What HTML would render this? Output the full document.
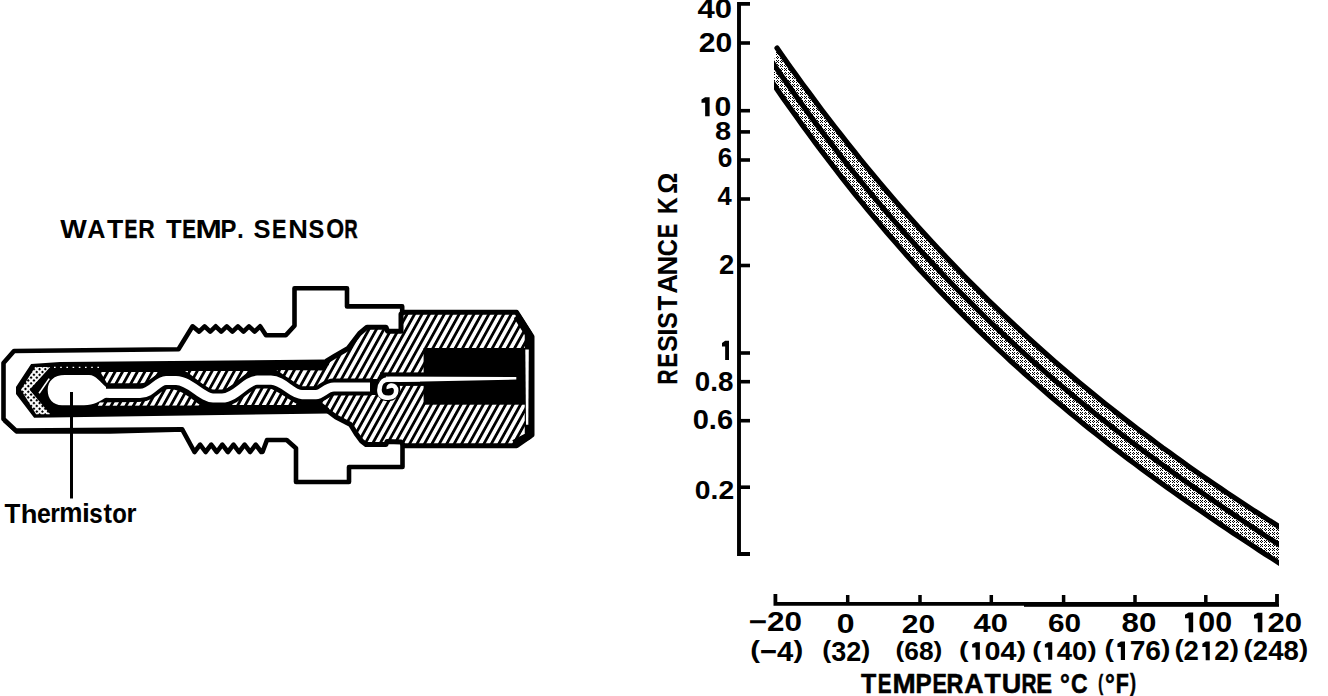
<!DOCTYPE html>
<html><head><meta charset="utf-8"><style>
html,body{margin:0;padding:0;background:#fff;width:1328px;height:696px;overflow:hidden}
svg{display:block}
text{font-family:"Liberation Sans",sans-serif;font-weight:bold;fill:#000}
</style></head><body>
<svg width="1328" height="696" viewBox="0 0 1328 696">
<defs>
<pattern id="hatch" patternUnits="userSpaceOnUse" width="6.5" height="20" patternTransform="rotate(29)">
<rect x="0" y="0" width="6.5" height="20" fill="#fff"/>
<rect x="0" y="0" width="2.8" height="20" fill="#000"/>
</pattern>
<pattern id="dots" patternUnits="userSpaceOnUse" width="8" height="8">
<rect width="8" height="8" fill="#fff"/>
<path d="M1,0h1v1h-1z M0,1h1v1h-1z M2,1h1v1h-1z M1,2h1v1h-1z M4,0h1v1h-1z M6,0h1v1h-1z M5,1h1v1h-1z M4,2h1v1h-1z M6,2h1v1h-1z M5,4h1v1h-1z M4,5h1v1h-1z M6,5h1v1h-1z M5,6h1v1h-1z M0,4h1v1h-1z M2,4h1v1h-1z M1,5h1v1h-1z M0,6h1v1h-1z M2,6h1v1h-1z" fill="#000"/>
</pattern>
<pattern id="dots2" patternUnits="userSpaceOnUse" width="4" height="4" patternTransform="rotate(45)">
<rect width="4" height="4" fill="#fff"/>
<rect x="0" y="0" width="2.1" height="2.1" fill="#000"/>
</pattern>
<clipPath id="bandclip"><rect x="774" y="0" width="505" height="696"/></clipPath>
</defs>

<!-- ================= CHART ================= -->
<g clip-path="url(#bandclip)">
<path d="M777.0,48.1 L783.4,57.3 L789.9,66.4 L796.3,75.3 L802.7,84.2 L809.2,92.9 L815.6,101.6 L822.0,110.2 L828.4,118.6 L834.9,127.0 L841.3,135.2 L847.7,143.4 L854.2,151.5 L860.6,159.5 L867.0,167.3 L873.5,175.1 L879.9,182.8 L886.3,190.5 L892.7,198.0 L899.2,205.4 L905.6,212.8 L912.0,220.0 L918.5,227.2 L924.9,234.3 L931.3,241.3 L937.8,248.3 L944.2,255.1 L950.6,261.9 L957.1,268.6 L963.5,275.2 L969.9,281.8 L976.3,288.2 L982.8,294.6 L989.2,301.0 L995.6,307.2 L1002.1,313.4 L1008.5,319.5 L1014.9,325.5 L1021.4,331.5 L1027.8,337.4 L1034.2,343.2 L1040.6,349.0 L1047.1,354.7 L1053.5,360.4 L1059.9,366.0 L1066.4,371.5 L1072.8,377.0 L1079.2,382.4 L1085.7,387.7 L1092.1,393.0 L1098.5,398.2 L1104.9,403.4 L1111.4,408.5 L1117.8,413.6 L1124.2,418.6 L1130.7,423.6 L1137.1,428.5 L1143.5,433.4 L1150.0,438.2 L1156.4,443.0 L1162.8,447.8 L1169.3,452.4 L1175.7,457.1 L1182.1,461.7 L1188.5,466.3 L1195.0,470.8 L1201.4,475.3 L1207.8,479.7 L1214.3,484.1 L1220.7,488.5 L1227.1,492.8 L1233.6,497.1 L1240.0,501.4 L1246.4,505.6 L1252.8,509.8 L1259.3,514.0 L1265.7,518.2 L1272.1,522.3 L1278.6,526.4 L1285.0,530.4 L1285.0,566.9 L1278.5,562.7 L1272.0,558.4 L1265.4,554.2 L1258.9,550.0 L1252.4,545.7 L1245.9,541.4 L1239.4,537.1 L1232.8,532.8 L1226.3,528.4 L1219.8,524.0 L1213.3,519.6 L1206.8,515.2 L1200.3,510.7 L1193.7,506.2 L1187.2,501.7 L1180.7,497.1 L1174.2,492.5 L1167.7,487.8 L1161.1,483.1 L1154.6,478.4 L1148.1,473.6 L1141.6,468.8 L1135.1,464.0 L1128.5,459.1 L1122.0,454.1 L1115.5,449.1 L1109.0,444.1 L1102.5,439.0 L1095.9,433.8 L1089.4,428.6 L1082.9,423.4 L1076.4,418.1 L1069.9,412.7 L1063.4,407.2 L1056.8,401.8 L1050.3,396.2 L1043.8,390.6 L1037.3,384.9 L1030.8,379.1 L1024.2,373.3 L1017.7,367.4 L1011.2,361.5 L1004.7,355.4 L998.2,349.3 L991.6,343.2 L985.1,336.9 L978.6,330.6 L972.1,324.2 L965.6,317.7 L959.1,311.1 L952.5,304.4 L946.0,297.7 L939.5,290.9 L933.0,284.0 L926.5,277.0 L919.9,269.9 L913.4,262.7 L906.9,255.4 L900.4,248.1 L893.9,240.6 L887.3,233.0 L880.8,225.4 L874.3,217.6 L867.8,209.8 L861.3,201.8 L854.7,193.8 L848.2,185.6 L841.7,177.3 L835.2,168.9 L828.7,160.5 L822.2,151.9 L815.6,143.2 L809.1,134.3 L802.6,125.4 L796.1,116.3 L789.6,107.2 L783.0,97.9 L776.5,88.5 L770.0,78.9 Z" fill="url(#dots)"/>
<path d="M777.0,48.1 L783.4,57.3 L789.9,66.4 L796.3,75.3 L802.7,84.2 L809.2,92.9 L815.6,101.6 L822.0,110.2 L828.4,118.6 L834.9,127.0 L841.3,135.2 L847.7,143.4 L854.2,151.5 L860.6,159.5 L867.0,167.3 L873.5,175.1 L879.9,182.8 L886.3,190.5 L892.7,198.0 L899.2,205.4 L905.6,212.8 L912.0,220.0 L918.5,227.2 L924.9,234.3 L931.3,241.3 L937.8,248.3 L944.2,255.1 L950.6,261.9 L957.1,268.6 L963.5,275.2 L969.9,281.8 L976.3,288.2 L982.8,294.6 L989.2,301.0 L995.6,307.2 L1002.1,313.4 L1008.5,319.5 L1014.9,325.5 L1021.4,331.5 L1027.8,337.4 L1034.2,343.2 L1040.6,349.0 L1047.1,354.7 L1053.5,360.4 L1059.9,366.0 L1066.4,371.5 L1072.8,377.0 L1079.2,382.4 L1085.7,387.7 L1092.1,393.0 L1098.5,398.2 L1104.9,403.4 L1111.4,408.5 L1117.8,413.6 L1124.2,418.6 L1130.7,423.6 L1137.1,428.5 L1143.5,433.4 L1150.0,438.2 L1156.4,443.0 L1162.8,447.8 L1169.3,452.4 L1175.7,457.1 L1182.1,461.7 L1188.5,466.3 L1195.0,470.8 L1201.4,475.3 L1207.8,479.7 L1214.3,484.1 L1220.7,488.5 L1227.1,492.8 L1233.6,497.1 L1240.0,501.4 L1246.4,505.6 L1252.8,509.8 L1259.3,514.0 L1265.7,518.2 L1272.1,522.3 L1278.6,526.4 L1285.0,530.4" fill="none" stroke="#000" stroke-width="5.2" stroke-linecap="round"/>
<path d="M770.0,58.9 L776.5,68.4 L783.0,77.8 L789.6,87.1 L796.1,96.3 L802.6,105.3 L809.1,114.3 L815.6,123.1 L822.2,131.8 L828.7,140.4 L835.2,148.9 L841.7,157.3 L848.2,165.6 L854.7,173.7 L861.3,181.8 L867.8,189.8 L874.3,197.6 L880.8,205.4 L887.3,213.0 L893.9,220.6 L900.4,228.1 L906.9,235.4 L913.4,242.7 L919.9,249.9 L926.5,257.0 L933.0,264.0 L939.5,270.9 L946.0,277.8 L952.5,284.5 L959.1,291.2 L965.6,297.7 L972.1,304.2 L978.6,310.7 L985.1,317.0 L991.6,323.3 L998.2,329.5 L1004.7,335.6 L1011.2,341.6 L1017.7,347.6 L1024.2,353.5 L1030.8,359.4 L1037.3,365.1 L1043.8,370.8 L1050.3,376.5 L1056.8,382.1 L1063.4,387.6 L1069.9,393.0 L1076.4,398.4 L1082.9,403.8 L1089.4,409.1 L1095.9,414.3 L1102.5,419.5 L1109.0,424.6 L1115.5,429.7 L1122.0,434.7 L1128.5,439.7 L1135.1,444.6 L1141.6,449.5 L1148.1,454.3 L1154.6,459.2 L1161.1,463.9 L1167.7,468.6 L1174.2,473.3 L1180.7,478.0 L1187.2,482.6 L1193.7,487.2 L1200.3,491.7 L1206.8,496.2 L1213.3,500.7 L1219.8,505.2 L1226.3,509.6 L1232.8,514.0 L1239.4,518.4 L1245.9,522.8 L1252.4,527.1 L1258.9,531.5 L1265.4,535.8 L1272.0,540.1 L1278.5,544.3 L1285.0,548.6" fill="none" stroke="#000" stroke-width="5.2"/>
<path d="M770.0,78.9 L776.5,88.5 L783.0,97.9 L789.6,107.2 L796.1,116.3 L802.6,125.4 L809.1,134.3 L815.6,143.2 L822.2,151.9 L828.7,160.5 L835.2,168.9 L841.7,177.3 L848.2,185.6 L854.7,193.8 L861.3,201.8 L867.8,209.8 L874.3,217.6 L880.8,225.4 L887.3,233.0 L893.9,240.6 L900.4,248.1 L906.9,255.4 L913.4,262.7 L919.9,269.9 L926.5,277.0 L933.0,284.0 L939.5,290.9 L946.0,297.7 L952.5,304.4 L959.1,311.1 L965.6,317.7 L972.1,324.2 L978.6,330.6 L985.1,336.9 L991.6,343.2 L998.2,349.3 L1004.7,355.4 L1011.2,361.5 L1017.7,367.4 L1024.2,373.3 L1030.8,379.1 L1037.3,384.9 L1043.8,390.6 L1050.3,396.2 L1056.8,401.8 L1063.4,407.2 L1069.9,412.7 L1076.4,418.1 L1082.9,423.4 L1089.4,428.6 L1095.9,433.8 L1102.5,439.0 L1109.0,444.1 L1115.5,449.1 L1122.0,454.1 L1128.5,459.1 L1135.1,464.0 L1141.6,468.8 L1148.1,473.6 L1154.6,478.4 L1161.1,483.1 L1167.7,487.8 L1174.2,492.5 L1180.7,497.1 L1187.2,501.7 L1193.7,506.2 L1200.3,510.7 L1206.8,515.2 L1213.3,519.6 L1219.8,524.0 L1226.3,528.4 L1232.8,532.8 L1239.4,537.1 L1245.9,541.4 L1252.4,545.7 L1258.9,550.0 L1265.4,554.2 L1272.0,558.4 L1278.5,562.7 L1285.0,566.9" fill="none" stroke="#000" stroke-width="5.2"/>
</g>

<!-- y axis -->
<path d="M750,3.9 L739,3.9 L739,554 L750,554" fill="none" stroke="#000" stroke-width="3.9"/>
<g stroke="#000" stroke-width="3.6">
<line x1="739" y1="43" x2="750" y2="43"/>
<line x1="739" y1="110.7" x2="750" y2="110.7"/>
<line x1="739" y1="131.9" x2="750" y2="131.9"/>
<line x1="739" y1="160" x2="750" y2="160"/>
<line x1="739" y1="199" x2="750" y2="199"/>
<line x1="739" y1="265.5" x2="750" y2="265.5"/>
<line x1="739" y1="353" x2="750" y2="353"/>
<line x1="739" y1="381.7" x2="750" y2="381.7"/>
<line x1="739" y1="420.7" x2="750" y2="420.7"/>
<line x1="739" y1="487.2" x2="750" y2="487.2"/>
</g>
<!-- x axis -->
<path d="M775.4,594 L775.4,603.8 L1277,603.8 L1277,594" fill="none" stroke="#000" stroke-width="3.8"/>
<g stroke="#000" stroke-width="3.5">
<line x1="847.7" y1="595" x2="847.7" y2="603.8"/>
<line x1="920" y1="595" x2="920" y2="603.8"/>
<line x1="991.3" y1="595" x2="991.3" y2="603.8"/>
<line x1="1063.6" y1="595" x2="1063.6" y2="603.8"/>
<line x1="1135" y1="595" x2="1135" y2="603.8"/>
<line x1="1205.8" y1="595" x2="1205.8" y2="603.8"/>
</g>

<rect x="1024" y="604" width="255" height="2.8" fill="#000"/>
<!-- labels -->
<text transform="translate(697.53,18.24) scale(1.125,0.972)" font-size="27.6">4</text>
<text transform="translate(714.80,18.24) scale(1.125,0.972)" font-size="27.6">0</text>
<text transform="translate(698.76,52.34) scale(1.090,0.972)" font-size="27.6">2</text>
<text transform="translate(715.50,52.34) scale(1.090,0.972)" font-size="27.6">0</text>
<path d="M705.15,97.18 L709.62,97.18 L709.62,116.13 L705.15,116.13 L705.15,102.87 L701.50,102.87 L701.50,99.46 Z"/>
<text transform="translate(714.62,116.13) scale(1.095,0.998)" font-size="27.6">0</text>
<text transform="translate(714.98,140.35) scale(1.050,0.942)" font-size="27.6">8</text>
<text transform="translate(717.74,166.74) scale(0.952,0.972)" font-size="27.6">6</text>
<text transform="translate(717.61,205.00) scale(0.927,0.948)" font-size="27.6">4</text>
<text transform="translate(718.95,273.70) scale(0.993,0.970)" font-size="27.6">2</text>
<path d="M725.15,340.80 L729.00,340.80 L729.00,359.90 L725.15,359.90 L725.15,346.53 L722.00,346.53 L722.00,343.09 Z"/>
<text transform="translate(694.80,391.14) scale(1.007,0.972)" font-size="27.6">0</text>
<text transform="translate(710.27,391.14) scale(1.007,0.972)" font-size="27.6">.</text>
<text transform="translate(717.99,391.14) scale(1.007,0.972)" font-size="27.6">8</text>
<text transform="translate(692.65,429.44) scale(1.053,0.972)" font-size="27.6">0</text>
<text transform="translate(708.81,429.44) scale(1.053,0.972)" font-size="27.6">.</text>
<text transform="translate(716.89,429.44) scale(1.053,0.972)" font-size="27.6">6</text>
<text transform="translate(694.78,498.54) scale(1.026,0.947)" font-size="27.6">0</text>
<text transform="translate(710.52,498.54) scale(1.026,0.947)" font-size="27.6">.</text>
<text transform="translate(718.39,498.54) scale(1.026,0.947)" font-size="27.6">2</text>
<text transform="translate(748.69,631.44) scale(1.141,0.983)" font-size="27.6">−</text>
<text transform="translate(767.08,631.44) scale(1.141,0.983)" font-size="27.6">2</text>
<text transform="translate(784.58,631.44) scale(1.141,0.983)" font-size="27.6">0</text>
<text transform="translate(836.64,633.23) scale(1.158,0.993)" font-size="27.6">0</text>
<text transform="translate(901.86,632.74) scale(1.084,0.967)" font-size="27.6">2</text>
<text transform="translate(918.49,632.74) scale(1.084,0.967)" font-size="27.6">0</text>
<text transform="translate(973.53,632.24) scale(1.118,0.967)" font-size="27.6">4</text>
<text transform="translate(990.70,632.24) scale(1.118,0.967)" font-size="27.6">0</text>
<text transform="translate(1047.91,632.24) scale(1.079,0.967)" font-size="27.6">6</text>
<text transform="translate(1064.47,632.24) scale(1.079,0.967)" font-size="27.6">0</text>
<text transform="translate(1121.51,632.23) scale(1.133,0.998)" font-size="27.6">8</text>
<text transform="translate(1138.90,632.23) scale(1.133,0.998)" font-size="27.6">0</text>
<path d="M1188.68,612.40 L1193.17,612.40 L1193.17,632.22 L1188.68,632.22 L1188.68,618.34 L1185.00,618.34 L1185.00,614.77 Z"/>
<text transform="translate(1198.21,632.22) scale(1.102,1.044)" font-size="27.6">0</text>
<text transform="translate(1215.13,632.22) scale(1.102,1.044)" font-size="27.6">0</text>
<path d="M1257.76,612.79 L1262.35,612.79 L1262.35,632.22 L1257.76,632.22 L1257.76,618.62 L1254.00,618.62 L1254.00,615.12 Z"/>
<text transform="translate(1267.50,632.22) scale(1.126,1.023)" font-size="27.6">2</text>
<text transform="translate(1284.79,632.22) scale(1.126,1.023)" font-size="27.6">0</text>
<text transform="translate(750.24,657.96) scale(1.062,0.863)" font-size="27.6">(</text>
<text transform="translate(760.00,661.40) scale(1.062,1.027)" font-size="27.6">−</text>
<text transform="translate(777.11,661.40) scale(1.062,1.027)" font-size="27.6">4</text>
<text transform="translate(793.40,657.96) scale(1.062,0.863)" font-size="27.6">)</text>
<text transform="translate(822.26,658.05) scale(0.978,0.847)" font-size="27.6">(</text>
<text transform="translate(831.24,661.10) scale(0.978,0.975)" font-size="27.6">3</text>
<text transform="translate(846.25,661.10) scale(0.978,0.975)" font-size="27.6">2</text>
<text transform="translate(861.26,658.05) scale(0.978,0.847)" font-size="27.6">)</text>
<text transform="translate(895.49,657.26) scale(0.954,0.828)" font-size="27.6">(</text>
<text transform="translate(904.26,660.24) scale(0.954,0.952)" font-size="27.6">6</text>
<text transform="translate(918.90,660.24) scale(0.954,0.952)" font-size="27.6">8</text>
<text transform="translate(933.54,657.26) scale(0.954,0.828)" font-size="27.6">)</text>
<text transform="translate(959.07,656.87) scale(1.041,0.808)" font-size="27.6">(</text>
<path d="M975.61,642.16 L979.86,642.16 L979.86,659.75 L975.61,659.75 L975.61,647.44 L972.14,647.44 L972.14,644.27 Z"/>
<text transform="translate(984.61,659.75) scale(1.041,0.926)" font-size="27.6">0</text>
<text transform="translate(1000.59,659.75) scale(1.041,0.926)" font-size="27.6">4</text>
<text transform="translate(1016.56,656.87) scale(1.041,0.808)" font-size="27.6">)</text>
<text transform="translate(1032.33,656.87) scale(0.997,0.808)" font-size="27.6">(</text>
<path d="M1048.18,642.16 L1052.24,642.16 L1052.24,659.75 L1048.18,659.75 L1048.18,647.44 L1044.85,647.44 L1044.85,644.27 Z"/>
<text transform="translate(1056.80,659.75) scale(0.997,0.926)" font-size="27.6">4</text>
<text transform="translate(1072.10,659.75) scale(0.997,0.926)" font-size="27.6">0</text>
<text transform="translate(1087.41,656.87) scale(0.997,0.808)" font-size="27.6">)</text>
<text transform="translate(1104.60,656.87) scale(1.021,0.843)" font-size="27.6">(</text>
<path d="M1120.83,641.48 L1124.99,641.48 L1124.99,659.94 L1120.83,659.94 L1120.83,647.01 L1117.42,647.01 L1117.42,643.69 Z"/>
<text transform="translate(1129.66,659.94) scale(1.021,0.972)" font-size="27.6">7</text>
<text transform="translate(1145.34,659.94) scale(1.021,0.972)" font-size="27.6">6</text>
<text transform="translate(1161.02,656.87) scale(1.021,0.843)" font-size="27.6">)</text>
<text transform="translate(1174.42,656.87) scale(1.000,0.843)" font-size="27.6">(</text>
<text transform="translate(1183.62,660.20) scale(1.000,0.986)" font-size="27.6">2</text>
<path d="M1205.68,641.48 L1209.76,641.48 L1209.76,660.20 L1205.68,660.20 L1205.68,647.10 L1202.34,647.10 L1202.34,643.73 Z"/>
<text transform="translate(1214.33,660.20) scale(1.000,0.986)" font-size="27.6">2</text>
<text transform="translate(1229.68,656.87) scale(1.000,0.843)" font-size="27.6">)</text>
<text transform="translate(1243.62,656.87) scale(1.000,0.843)" font-size="27.6">(</text>
<text transform="translate(1252.82,659.94) scale(1.000,0.972)" font-size="27.6">2</text>
<text transform="translate(1268.17,659.94) scale(1.000,0.972)" font-size="27.6">4</text>
<text transform="translate(1283.53,659.94) scale(1.000,0.972)" font-size="27.6">8</text>
<text transform="translate(1298.88,656.87) scale(1.000,0.843)" font-size="27.6">)</text>
<text transform="translate(860.92,693.20) scale(0.925,1.023)" font-size="27.0" stroke="#000" stroke-width="0.5" vector-effect="non-scaling-stroke">T</text>
<text transform="translate(877.72,693.20) scale(0.766,1.023)" font-size="27.0" stroke="#000" stroke-width="0.5" vector-effect="non-scaling-stroke">E</text>
<text transform="translate(892.53,693.20) scale(1.033,1.023)" font-size="27.0" stroke="#000" stroke-width="0.5" vector-effect="non-scaling-stroke">M</text>
<text transform="translate(915.38,693.20) scale(0.897,1.023)" font-size="27.0" stroke="#000" stroke-width="0.5" vector-effect="non-scaling-stroke">P</text>
<text transform="translate(932.46,693.20) scale(0.799,1.023)" font-size="27.0" stroke="#000" stroke-width="0.5" vector-effect="non-scaling-stroke">E</text>
<text transform="translate(946.54,693.20) scale(0.864,1.023)" font-size="27.0" stroke="#000" stroke-width="0.5" vector-effect="non-scaling-stroke">R</text>
<text transform="translate(964.34,693.20) scale(0.988,1.023)" font-size="27.0" stroke="#000" stroke-width="0.5" vector-effect="non-scaling-stroke">A</text>
<text transform="translate(984.50,693.20) scale(0.987,1.023)" font-size="27.0" stroke="#000" stroke-width="0.5" vector-effect="non-scaling-stroke">T</text>
<text transform="translate(1001.87,692.93) scale(1.004,1.009)" font-size="27.0" stroke="#000" stroke-width="0.5" vector-effect="non-scaling-stroke">U</text>
<text transform="translate(1021.41,693.20) scale(0.770,1.023)" font-size="27.0" stroke="#000" stroke-width="0.5" vector-effect="non-scaling-stroke">R</text>
<text transform="translate(1036.21,693.20) scale(0.878,1.023)" font-size="27.0" stroke="#000" stroke-width="0.5" vector-effect="non-scaling-stroke">E</text>
<text transform="translate(1060.02,693.55) scale(0.911,1.035)" font-size="27.0" stroke="#000" stroke-width="0.5" vector-effect="non-scaling-stroke">°</text>
<text transform="translate(1071.06,693.43) scale(0.850,1.036)" font-size="27.0" stroke="#000" stroke-width="0.5" vector-effect="non-scaling-stroke">C</text>
<text transform="translate(1098.18,690.04) scale(0.538,0.815)" font-size="27.0" stroke="#000" stroke-width="0.5" vector-effect="non-scaling-stroke">(</text>
<text transform="translate(1105.12,693.55) scale(0.911,1.035)" font-size="27.0" stroke="#000" stroke-width="0.5" vector-effect="non-scaling-stroke">°</text>
<text transform="translate(1115.66,693.30) scale(0.796,1.012)" font-size="27.0" stroke="#000" stroke-width="0.5" vector-effect="non-scaling-stroke">F</text>
<text transform="translate(1129.88,690.71) scale(0.669,0.854)" font-size="27.0" stroke="#000" stroke-width="0.5" vector-effect="non-scaling-stroke">)</text>
<g transform="translate(677,0) rotate(-90)"><text transform="translate(-384.59,0.00) scale(0.770,1.023)" font-size="27.0" stroke="#000" stroke-width="0.36" vector-effect="non-scaling-stroke">R</text>
<text transform="translate(-367.44,0.00) scale(0.799,1.023)" font-size="27.0" stroke="#000" stroke-width="0.30" vector-effect="non-scaling-stroke">E</text>
<text transform="translate(-351.72,-0.26) scale(0.921,0.994)" font-size="27.0" stroke="#000" stroke-width="0.06" vector-effect="non-scaling-stroke">S</text>
<text transform="translate(-335.43,0.00) scale(0.900,1.023)" font-size="27.0" stroke="#000" stroke-width="0.10" vector-effect="non-scaling-stroke">I</text>
<text transform="translate(-328.72,-0.26) scale(0.921,0.994)" font-size="27.0" stroke="#000" stroke-width="0.06" vector-effect="non-scaling-stroke">S</text>
<text transform="translate(-310.47,0.00) scale(0.899,1.023)" font-size="27.0" stroke="#000" stroke-width="0.10" vector-effect="non-scaling-stroke">T</text>
<text transform="translate(-293.68,0.00) scale(1.010,1.023)" font-size="27.0">A</text>
<text transform="translate(-275.43,0.00) scale(1.014,1.023)" font-size="27.0">N</text>
<text transform="translate(-256.17,-0.26) scale(0.878,0.994)" font-size="27.0" stroke="#000" stroke-width="0.14" vector-effect="non-scaling-stroke">C</text>
<text transform="translate(-238.24,0.00) scale(0.799,1.023)" font-size="27.0" stroke="#000" stroke-width="0.30" vector-effect="non-scaling-stroke">E</text>
<text transform="translate(-214.12,0.00) scale(0.843,1.023)" font-size="27.0" stroke="#000" stroke-width="0.21" vector-effect="non-scaling-stroke">K</text>
<text transform="translate(-193.87,0.00) scale(0.976,1.008)" font-size="27.0">Ω</text></g>

<!-- ================= SENSOR ================= -->
<text transform="translate(60.17,238.30) scale(1.042,0.985)" font-size="27.0">W</text>
<text transform="translate(87.27,238.30) scale(0.933,0.985)" font-size="27.0">A</text>
<text transform="translate(106.90,238.30) scale(0.987,0.985)" font-size="27.0">T</text>
<text transform="translate(124.61,238.30) scale(0.713,0.985)" font-size="27.0" stroke="#000" stroke-width="0.47" vector-effect="non-scaling-stroke">E</text>
<text transform="translate(138.17,238.30) scale(0.846,0.985)" font-size="27.0" stroke="#000" stroke-width="0.21" vector-effect="non-scaling-stroke">R</text>
<text transform="translate(165.91,238.30) scale(0.950,0.985)" font-size="27.0">T</text>
<text transform="translate(182.33,238.30) scale(0.759,0.985)" font-size="27.0" stroke="#000" stroke-width="0.38" vector-effect="non-scaling-stroke">E</text>
<text transform="translate(195.49,238.30) scale(1.171,0.985)" font-size="27.0">M</text>
<text transform="translate(220.60,238.30) scale(0.884,0.985)" font-size="27.0" stroke="#000" stroke-width="0.13" vector-effect="non-scaling-stroke">P</text>
<text transform="translate(237.36,238.30) scale(0.840,0.945)" font-size="27.0" stroke="#000" stroke-width="0.22" vector-effect="non-scaling-stroke">.</text>
<text transform="translate(253.56,238.34) scale(0.946,0.989)" font-size="27.0">S</text>
<text transform="translate(272.06,238.30) scale(0.799,0.985)" font-size="27.0" stroke="#000" stroke-width="0.30" vector-effect="non-scaling-stroke">E</text>
<text transform="translate(288.28,238.30) scale(1.008,0.985)" font-size="27.0">N</text>
<text transform="translate(308.62,238.34) scale(0.872,0.989)" font-size="27.0" stroke="#000" stroke-width="0.16" vector-effect="non-scaling-stroke">S</text>
<text transform="translate(326.26,238.34) scale(0.853,0.989)" font-size="27.0" stroke="#000" stroke-width="0.19" vector-effect="non-scaling-stroke">O</text>
<text transform="translate(344.59,238.30) scale(0.671,0.985)" font-size="27.0" stroke="#000" stroke-width="0.56" vector-effect="non-scaling-stroke">R</text>
<text transform="translate(4.41,522.70) scale(0.962,0.996)" font-size="27.0">T</text>
<text transform="translate(20.79,522.70) scale(1.013,0.946)" font-size="27.0">h</text>
<text transform="translate(36.93,522.53) scale(0.920,1.007)" font-size="27.0" stroke="#000" stroke-width="0.06" vector-effect="non-scaling-stroke">e</text>
<text transform="translate(50.27,522.30) scale(0.914,0.963)" font-size="27.0" stroke="#000" stroke-width="0.07" vector-effect="non-scaling-stroke">r</text>
<text transform="translate(59.28,522.30) scale(0.968,0.990)" font-size="27.0">m</text>
<text transform="translate(82.02,522.30) scale(1.053,0.986)" font-size="27.0">i</text>
<text transform="translate(89.25,522.53) scale(0.895,1.006)" font-size="27.0" stroke="#000" stroke-width="0.11" vector-effect="non-scaling-stroke">s</text>
<text transform="translate(103.49,522.56) scale(0.948,0.997)" font-size="27.0">t</text>
<text transform="translate(112.37,522.53) scale(0.883,1.007)" font-size="27.0" stroke="#000" stroke-width="0.13" vector-effect="non-scaling-stroke">o</text>
<text transform="translate(126.41,522.30) scale(0.950,0.963)" font-size="27.0">r</text>

<path d="M3.5,363.0 L14.0,351.0 L178.5,349.3 L192.6,326.3 L199.1,331.6 L204.6,326.3 L210.2,331.6 L215.7,326.3 L221.2,331.6 L226.8,326.3 L232.4,331.6 L237.9,326.3 L243.5,331.6 L249.0,326.3 L254.6,331.6 L260.1,326.3 L266.0,335.3 L285.8,335.3 L294.5,325.8 L294.5,288.3 L347.0,288.3 L347.0,306.4 L402.2,306.4 L402.2,330.0 L402.5,442.0 L402.5,467.0 L349.0,467.0 L349.0,482.0 L296.0,482.0 L296.0,448.2 L286.7,440.0 L267.0,440.0 L262.5,452.0 L261.3,452.0 L255.7,444.6 L250.2,452.0 L244.6,444.6 L239.0,452.0 L233.5,444.6 L227.9,452.0 L222.3,444.6 L216.8,452.0 L211.2,444.6 L205.6,452.0 L200.1,444.6 L194.5,452.0 L182.2,429.4 L16.0,430.6 L3.5,419.0 Z" fill="#fff" stroke="#000" stroke-width="4.6" stroke-linejoin="round"/>
<path d="M4,421 L16.5,432.3 L110,432.3 L175,430.5" fill="none" stroke="#000" stroke-width="3"/>
<path d="M326.0,361.5 L335.0,356.0 L348.0,348.5 L359.5,333.5 L367.0,327.2 L386.0,327.2 L387.5,331.2 L401.0,331.2 L401.0,314.0 L404.0,312.3 L516.6,312.3 L532.0,336.5 L532.0,435.0 L516.6,445.7 L404.0,445.7 L401.0,442.0 L387.0,441.5 L386.0,444.5 L366.0,444.5 L361.5,441.0 L356.0,433.5 L350.5,424.5 L336.0,417.0 L328.0,411.0 Z" fill="url(#hatch)"/>
<rect x="423.6" y="348" width="108" height="56.7" fill="#000"/>
<rect x="380" y="372.4" width="45" height="13.5" fill="#000"/>
<path d="M386,376.6 L516.3,377 L516.3,379.6 L386,382.2 Z" fill="#fff"/>
<path d="M31.1,364.0 L60.0,362.0 L326.0,359.5 L329.0,362.0 L329.0,371.0 L323.0,371.0 L323.0,399.0 L329.0,399.0 L329.0,413.5 L34.1,417.8 L16.0,394.0 L16.0,387.0 Z" fill="#000"/>
<path d="M326.0,361.5 L335.0,356.0 L348.0,348.5 L359.5,333.5 L367.0,327.2 L386.0,327.2 L387.5,331.2 L401.0,331.2 L401.0,314.0 L404.0,312.3 L516.6,312.3 L532.0,336.5 L532.0,435.0 L516.6,445.7 L404.0,445.7 L401.0,442.0 L387.0,441.5 L386.0,444.5 L366.0,444.5 L361.5,441.0 L356.0,433.5 L350.5,424.5 L336.0,417.0 L328.0,411.0" fill="none" stroke="#000" stroke-width="5" stroke-linejoin="round"/>
<path d="M517,316 L528.5,334 L528.5,436 L514,443.5" fill="none" stroke="#000" stroke-width="7.5" stroke-linejoin="round"/>
<path d="M525.3,349.5 L528.8,349.5 L528.3,424.8 L526,424.8 Z" fill="#fff"/>
<line x1="54" y1="367.3" x2="101" y2="367.3" stroke="#fff" stroke-width="1.3" stroke-dasharray="1.6 4.6"/>
<path d="M35.1,367.0 L50.2,367.0 L29.6,389.7 L50.2,414.3 L36.1,414.3 L21.0,389.7 Z" fill="url(#dots2)"/>
<path d="M100.4,372 L157.8,372 C154,378 149,383.2 140,383.2 L107,383.2 Z" fill="url(#hatch)"/>
<path d="M185,371 L250,371 C240,377 230,390.8 218,390.8 C206,390.8 196,377 185,371 Z" fill="url(#hatch)"/>
<path d="M276.4,370 L324,370.5 L326,366 L332,364 L334,386 C326,386 320,389.8 310,389.8 C298,389.8 286,375 276.4,370 Z" fill="url(#hatch)"/>
<path d="M97.5,402.5 L137,402 C150,401 156,389 169,389 C182,389 192,400 201,405.5 L97.5,405.8 Z" fill="url(#hatch)"/>
<path d="M229.3,405 C240,400 249,387 262,387 C275,387 288,400 299,405 Z" fill="url(#hatch)"/>
<path d="M321,402 C326,399 330,396 336,394 L336,409 L330,409 Z" fill="url(#hatch)"/>
<path d="M95,391 C100,393 103,393.4 110,393.4 L140,393.4 C152,393.4 157,380.5 166,380.5 L176,380.5 C190,380.5 202,398 213,398 L222,398 C236,398 246,380.2 257,380.2 L271,380.2 C283,380.2 292,394.6 302,394.6 L316,394.6 C322,394.6 326,387 334,387 L372,387" fill="none" stroke="#000" stroke-width="16.8" stroke-linejoin="round"/>
<path d="M95,391 C100,393 103,393.4 110,393.4 L140,393.4 C152,393.4 157,380.5 166,380.5 L176,380.5 C190,380.5 202,398 213,398 L222,398 C236,398 246,380.2 257,380.2 L271,380.2 C283,380.2 292,394.6 302,394.6 L316,394.6 C322,394.6 326,387 334,387 L372,387" fill="none" stroke="#fff" stroke-width="9.2"/>
<rect x="370" y="379" width="8" height="16" fill="#000"/>
<path d="M47.7,390 C47.7,381 54,375 65,375 L89,375 C96,375 100,382 106,387 L106,397.5 C100,401 94,405.2 84,405.2 L62,405.2 C53,405.2 47.7,399 47.7,390 Z" fill="#fff"/>
<path d="M49.2,378.6 L39.1,393.2" stroke="#fff" stroke-width="1.6"/>
<circle cx="388" cy="389" r="12.2" fill="#000"/>
<path d="M400,379.4 L389,379.4 C382.5,379.4 379.4,384.5 379.4,390 C379.4,395.5 383,397.8 388.5,397.8 C393.5,397.8 396.2,394.5 396.2,390.8 C396.2,387.2 393.8,385.2 391,385.6 C389.3,385.9 388.4,387 388.8,388.6" fill="none" stroke="#fff" stroke-width="4.6"/>
<path d="M386,377.2 L420,377.4 L420,381.6 L386,381.8 Z" fill="#fff"/>
<line x1="71.5" y1="392" x2="71.5" y2="498.5" stroke="#000" stroke-width="3"/>

</svg>
</body></html>
